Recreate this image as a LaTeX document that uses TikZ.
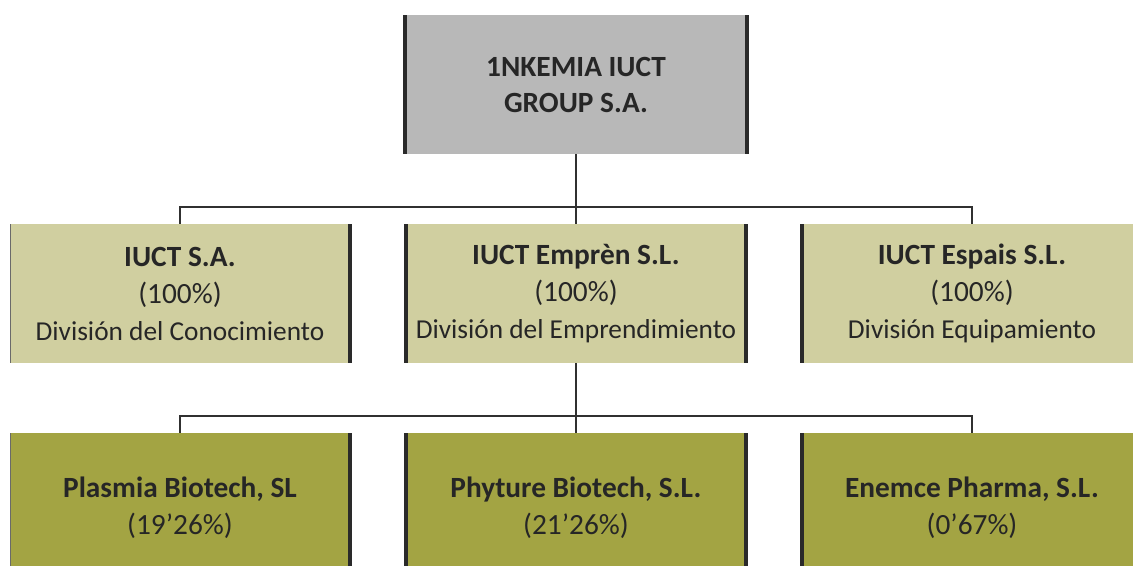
\documentclass[tikz,border=0pt]{standalone}
\usepackage{fontspec}
\setmainfont{Carlito}
\definecolor{topgray}{HTML}{B8B8B8}
\definecolor{midolive}{HTML}{D0CFA0}
\definecolor{botolive}{HTML}{A3A443}
\definecolor{txt}{HTML}{262626}
\definecolor{edge}{HTML}{2A2A2A}
\definecolor{conn}{HTML}{303030}
\begin{document}
\begin{tikzpicture}[x=0.75pt,y=-0.75pt,
  orgbox/.style={inner sep=0pt, outer sep=0pt, align=center, text=txt,
    minimum width=255pt},
  topbox/.style={orgbox, fill=topgray, minimum width=256.5pt, minimum height=104.25pt,
    font=\fontsize{22}{27}\selectfont\bfseries},
  midbox/.style={orgbox, fill=midolive, minimum height=104.25pt,
    font=\fontsize{22}{27.75}\selectfont},
  botbox/.style={orgbox, fill=botolive, minimum height=112.5pt,
    font=\fontsize{22}{27.75}\selectfont},
  thickedge/.style={draw=edge, line width=2.4pt},
  thinedge/.style={draw=edge!70, line width=0.5pt},
  connector/.style={draw=conn, line width=1.1pt}
]
\useasboundingbox (0,0) rectangle (1133,565);

% top
\node[topbox] (top) at (576,84.5) {1NKEMIA IUCT\\GROUP S.A.};

% middle row
\node[midbox] (m1) at (180,293.5) {\textbf{IUCT S.A.}\\(100\%)\\{\fontsize{20.5}{24.75}\selectfont División del Conocimiento}};
\node[midbox] (m2) at (576,293.5) {\textbf{IUCT Emprèn S.L.}\\(100\%)\\{\fontsize{20.5}{24.75}\selectfont División del Emprendimiento}};
\node[midbox] (m3) at (972,293.5) {\textbf{IUCT Espais S.L.}\\(100\%)\\{\fontsize{20.5}{24.75}\selectfont División Equipamiento}};

% bottom row
\node[botbox] (b1) at (180,508) {\textbf{Plasmia Biotech, SL}\\(19’26\%)};
\node[botbox] (b2) at (576,508) {\textbf{Phyture Biotech, S.L.}\\(21’26\%)};
\node[botbox] (b3) at (972,508) {\textbf{Enemce Pharma, S.L.}\\(0’67\%)};

% box edges
\draw[thickedge] (top.north west) -- (top.south west);
\draw[thickedge] (top.north east) -- (top.south east);
\draw[thinedge] (m1.north west) -- (m1.south west);
\draw[thickedge] (m1.north east) -- (m1.south east);
\draw[thickedge] (m2.north west) -- (m2.south west);
\draw[thickedge] (m2.north east) -- (m2.south east);
\draw[thickedge] (m3.north west) -- (m3.south west);
\draw[thinedge] (b1.north west) -- (b1.south west);
\draw[thickedge] (b1.north east) -- (b1.south east);
\draw[thickedge] (b2.north west) -- (b2.south west);
\draw[thickedge] (b2.north east) -- (b2.south east);
\draw[thickedge] (b3.north west) -- (b3.south west);

% connectors
\coordinate (j1) at (576,207);
\coordinate (j2) at (576,416);
\draw[connector] (top.south) -- (j1);
\draw[connector] (j1) -| (m1.north);
\draw[connector] (j1) -| (m3.north);
\draw[connector] (j1) -- (m2.north);
\draw[connector] (m2.south) -- (j2);
\draw[connector] (j2) -| (b1.north);
\draw[connector] (j2) -| (b3.north);
\draw[connector] (j2) -- (b2.north);
\end{tikzpicture}
\end{document}
